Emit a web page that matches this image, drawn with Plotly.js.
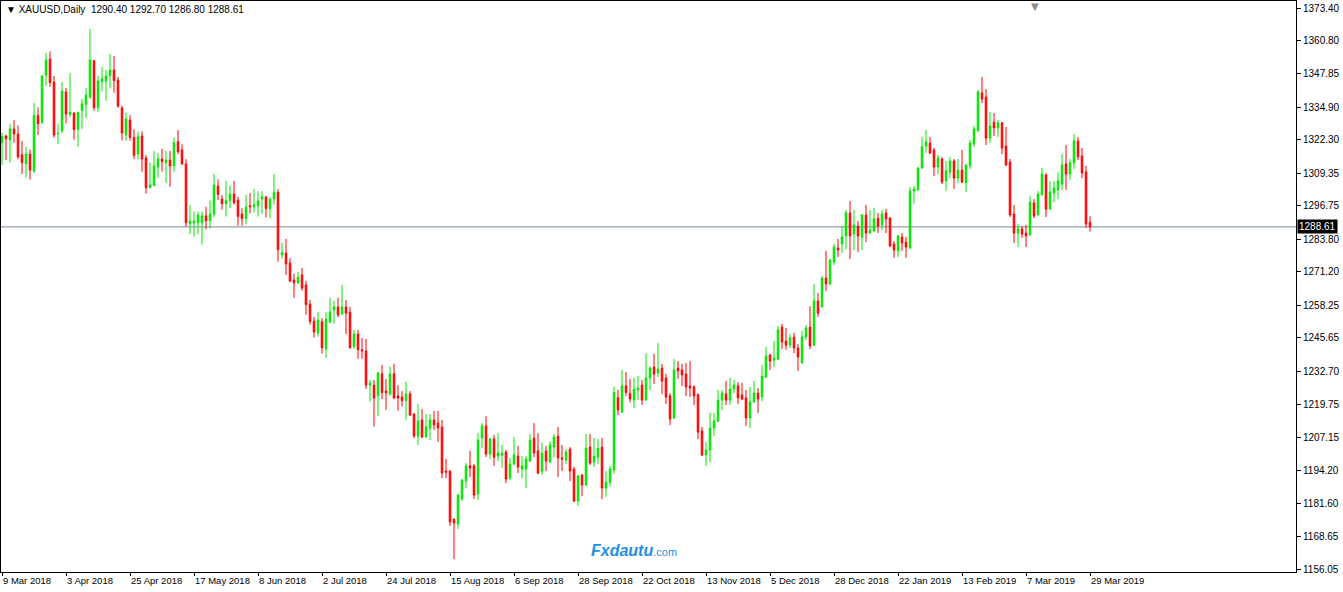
<!DOCTYPE html>
<html>
<head>
<meta charset="utf-8">
<script src="https://cdn.plot.ly/plotly-3.0.1.min.js"></script>
<style>
  html, body { margin: 0; padding: 0; background: #ffffff; }
  #chart { width: 1343px; height: 592px; }
</style>
</head>
<body>
<div id="chart"></div>
<script>
// XAUUSD Daily, 9 Mar 2018 .. 29 Mar 2019 (one entry per daily bar)
const symbol = 'XAUUSD,Daily';

const open = [
  1321.2,1323.8,1322.3,1326.5,1324.6,1316.5,1313.0,1316.8,1310.2,1331.8,
  1329.0,1347.4,1353.6,1344.7,1324.6,1325.9,1340.9,1332.1,1332.7,1326.4,
  1333.6,1336.0,1338.8,1353.0,1334.8,1344.9,1345.1,1347.2,1349.4,1345.5,
  1334.7,1324.2,1330.0,1323.2,1316.8,1323.8,1315.3,1303.8,1304.6,1311.8,
  1314.9,1313.4,1314.5,1312.2,1321.6,1318.4,1313.0,1289.8,1290.2,1290.2,
  1290.2,1292.9,1291.0,1293.6,1304.4,1299.4,1297.6,1298.8,1301.3,1299.0,
  1293.6,1291.8,1296.8,1296.4,1296.8,1299.4,1300.2,1295.7,1299.5,1302.0,
  1277.7,1278.5,1274.6,1268.0,1266.9,1270.0,1266.1,1258.7,1252.1,1247.5,
  1251.8,1241.4,1251.8,1256.4,1257.6,1254.9,1257.6,1255.6,1242.2,1247.1,
  1241.0,1240.5,1227.3,1227.3,1223.2,1231.7,1225.0,1223.9,1231.7,1223.1,
  1222.7,1221.3,1223.9,1216.1,1207.6,1213.8,1207.2,1210.7,1213.8,1212.6,
  1211.1,1194.0,1194.0,1175.4,1173.5,1183.2,1190.2,1196.1,1196.0,1185.1,
  1206.8,1211.5,1200.6,1206.4,1199.8,1200.2,1201.4,1191.3,1196.7,1199.8,
  1194.8,1194.8,1197.9,1206.8,1201.8,1194.0,1201.8,1197.5,1203.3,1207.6,
  1199.1,1198.3,1202.5,1194.8,1182.4,1192.5,1188.6,1203.3,1197.5,1199.4,
  1203.3,1187.4,1189.7,1194.4,1222.5,1216.9,1227.0,1224.1,1221.5,1225.4,
  1227.3,1221.5,1230.1,1234.3,1232.0,1233.9,1230.1,1223.1,1214.5,1233.9,
  1233.2,1231.6,1227.0,1226.6,1223.5,1209.5,1200.2,1202.2,1210.7,1213.4,
  1221.5,1223.9,1221.5,1225.8,1227.0,1223.5,1222.3,1214.6,1220.8,1224.2,
  1222.7,1230.4,1239.0,1237.0,1237.4,1249.8,1244.4,1242.8,1245.9,1241.7,
  1235.9,1245.9,1249.8,1242.8,1259.9,1257.6,1268.8,1266.5,1275.0,1280.4,
  1282.0,1285.1,1294.0,1285.8,1288.9,1284.7,1293.2,1286.2,1287.0,1292.0,
  1289.3,1294.0,1292.0,1282.0,1279.3,1284.7,1282.7,1280.4,1302.5,1302.9,
  1311.4,1319.9,1321.1,1318.4,1311.8,1314.9,1306.4,1309.9,1314.1,1307.5,
  1310.6,1305.7,1312.3,1320.7,1325.8,1340.5,1338.9,1323.0,1329.2,1326.9,
  1328.9,1319.9,1313.7,1293.6,1286.2,1287.8,1286.2,1285.5,1297.9,1293.2,
  1301.0,1308.7,1295.5,1301.7,1302.9,1305.2,1313.0,1309.1,1313.4,1321.9,
  1316.1,1309.9,1290.40
];
const high = [
  1325.1,1324.3,1328.5,1330.0,1327.9,1321.9,1319.5,1318.6,1336.6,1334.9,
  1347.3,1356.0,1356.6,1347.1,1328.5,1344.7,1342.4,1348.2,1333.0,1333.2,
  1338.1,1342.4,1365.3,1353.3,1347.1,1350.5,1349.4,1355.6,1354.8,1346.7,
  1335.6,1332.9,1331.9,1326.4,1325.6,1325.6,1316.4,1313.5,1318.0,1317.1,
  1318.8,1318.0,1318.0,1323.2,1326.1,1320.6,1314.8,1297.1,1294.5,1294.5,
  1294.5,1296.4,1298.8,1309.1,1307.0,1301.0,1306.4,1304.6,1306.4,1300.3,
  1295.8,1301.0,1301.7,1303.3,1302.4,1302.4,1300.6,1300.1,1309.1,1303.2,
  1282.4,1283.9,1276.5,1270.4,1271.1,1272.7,1267.6,1260.3,1253.7,1255.6,
  1253.3,1255.6,1261.1,1259.9,1261.1,1266.1,1260.3,1257.6,1248.7,1248.7,
  1245.6,1245.2,1229.3,1229.3,1232.4,1235.1,1229.7,1234.4,1235.6,1227.3,
  1225.0,1228.6,1225.0,1216.4,1220.0,1218.0,1216.1,1216.1,1217.3,1217.3,
  1213.8,1198.7,1194.3,1175.6,1185.1,1190.9,1197.1,1201.8,1196.7,1208.7,
  1212.6,1215.3,1206.8,1208.0,1208.7,1204.1,1202.2,1199.1,1207.2,1203.7,
  1199.8,1199.8,1208.4,1212.6,1208.7,1204.9,1203.7,1205.6,1208.4,1211.1,
  1204.1,1202.5,1203.3,1195.6,1192.5,1192.8,1208.4,1208.4,1206.8,1206.4,
  1206.8,1194.0,1196.0,1226.7,1225.5,1233.2,1232.4,1229.7,1230.1,1230.8,
  1229.3,1239.7,1234.7,1239.4,1243.6,1235.5,1231.6,1224.2,1237.4,1236.6,
  1235.5,1235.9,1236.6,1227.3,1224.2,1211.1,1205.3,1216.5,1216.5,1225.4,
  1225.4,1228.9,1230.1,1229.3,1228.5,1228.1,1225.4,1226.6,1228.9,1226.2,
  1235.1,1242.1,1239.4,1244.4,1250.2,1251.0,1249.4,1247.1,1247.5,1243.2,
  1248.3,1250.6,1257.9,1266.5,1263.0,1269.6,1279.3,1276.2,1282.0,1283.9,
  1288.9,1295.1,1298.6,1295.1,1290.9,1293.6,1297.1,1295.1,1295.9,1294.0,
  1295.1,1295.5,1292.4,1283.1,1285.5,1286.2,1284.7,1304.1,1304.4,1311.8,
  1323.4,1326.1,1323.4,1319.2,1316.5,1315.7,1314.1,1315.7,1314.9,1314.9,
  1318.4,1312.8,1322.3,1327.7,1341.6,1346.7,1342.0,1333.1,1332.7,1330.0,
  1329.2,1327.3,1314.9,1297.1,1289.7,1288.9,1289.3,1300.6,1299.4,1302.5,
  1311.4,1309.5,1306.4,1306.4,1309.9,1316.8,1320.3,1314.9,1324.6,1323.4,
  1319.2,1312.2,1292.70
];
const low = [
  1312.6,1314.5,1313.5,1321.2,1314.8,1309.1,1307.7,1306.9,1309.5,1324.2,
  1328.5,1343.3,1342.9,1323.2,1320.8,1324.8,1328.7,1331.2,1322.4,1319.7,
  1326.6,1330.9,1338.4,1333.6,1333.2,1341.1,1337.5,1342.2,1340.6,1334.8,
  1322.0,1322.0,1322.0,1314.9,1314.9,1310.0,1301.5,1303.6,1304.4,1307.7,
  1310.0,1305.7,1304.2,1309.9,1316.8,1312.6,1288.7,1285.8,1284.8,1285.8,
  1281.8,1287.7,1288.0,1292.4,1299.0,1295.3,1292.6,1295.8,1297.2,1289.1,
  1289.1,1289.7,1293.9,1294.2,1292.6,1293.7,1292.3,1291.9,1297.2,1275.1,
  1276.2,1270.0,1267.2,1261.1,1266.5,1263.9,1254.6,1250.7,1245.7,1246.1,
  1239.5,1237.9,1251.4,1251.0,1253.7,1254.5,1247.1,1241.4,1241.4,1237.5,
  1237.5,1225.8,1220.9,1211.2,1215.3,1221.9,1217.7,1223.2,1221.9,1217.4,
  1219.0,1213.9,1215.3,1206.8,1204.1,1206.8,1206.9,1206.0,1209.9,1205.3,
  1191.3,1191.3,1172.7,1159.9,1171.6,1182.4,1187.4,1191.7,1183.2,1182.8,
  1202.9,1199.4,1198.7,1196.0,1197.9,1195.2,1189.4,1190.5,1196.3,1193.2,
  1191.3,1187.4,1197.6,1199.4,1192.9,1192.5,1194.0,1197.2,1199.4,1191.7,
  1194.0,1196.7,1190.1,1182.0,1180.5,1184.3,1188.2,1196.3,1195.6,1196.7,
  1183.2,1184.0,1188.0,1193.0,1215.7,1216.5,1223.1,1220.6,1218.4,1221.5,
  1219.6,1221.3,1225.4,1227.7,1230.4,1223.9,1220.0,1211.8,1214.3,1229.7,
  1227.0,1223.1,1222.7,1219.6,1206.4,1199.8,1196.0,1197.5,1207.6,1213.0,
  1217.6,1219.6,1219.6,1224.2,1220.0,1221.5,1211.5,1210.7,1220.4,1216.5,
  1221.1,1230.1,1233.2,1234.3,1237.0,1241.3,1240.9,1241.7,1239.7,1232.8,
  1235.5,1244.8,1241.3,1242.4,1253.7,1257.4,1263.8,1266.1,1273.8,1276.9,
  1278.5,1280.0,1276.2,1279.6,1278.9,1279.6,1282.7,1286.0,1286.8,1286.2,
  1287.4,1286.2,1280.8,1276.6,1276.9,1279.3,1276.6,1280.2,1297.5,1302.7,
  1311.2,1317.2,1316.8,1308.3,1309.1,1305.2,1302.5,1307.5,1303.3,1305.6,
  1305.6,1302.2,1311.0,1319.6,1325.6,1336.6,1320.3,1321.1,1323.8,1323.4,
  1316.8,1312.2,1292.4,1282.4,1280.8,1284.3,1280.8,1285.3,1292.0,1293.0,
  1300.8,1292.4,1295.3,1298.2,1299.4,1302.9,1302.9,1306.8,1311.0,1314.5,
  1307.5,1288.2,1286.80
];
const close = [
  1323.6,1322.8,1326.5,1324.6,1315.8,1313.5,1316.8,1310.6,1331.8,1328.6,
  1347.1,1353.3,1344.5,1324.2,1324.8,1341.2,1332.3,1333.0,1326.3,1333.0,
  1336.2,1339.6,1353.3,1334.8,1345.1,1345.9,1347.1,1349.4,1345.3,1335.4,
  1325.0,1330.4,1323.2,1316.4,1323.5,1314.9,1303.8,1304.8,1312.2,1314.9,
  1313.9,1314.5,1312.2,1321.2,1317.7,1313.0,1290.2,1290.9,1290.9,1293.2,
  1292.9,1291.0,1293.6,1304.8,1301.2,1297.6,1298.8,1301.3,1298.0,1292.6,
  1291.8,1296.2,1296.4,1297.2,1298.6,1300.2,1295.7,1299.3,1302.0,1279.8,
  1278.6,1274.2,1267.6,1266.9,1269.2,1264.9,1258.5,1251.9,1247.9,1252.5,
  1241.8,1252.9,1255.6,1257.6,1254.5,1257.6,1255.2,1241.8,1247.1,1241.0,
  1240.6,1227.3,1228.0,1222.3,1232.0,1224.4,1224.4,1231.6,1222.3,1222.3,
  1221.3,1223.9,1215.7,1207.6,1213.4,1207.2,1211.1,1213.8,1211.9,1210.7,
  1193.3,1193.6,1174.3,1173.9,1184.7,1190.5,1196.0,1195.2,1184.7,1206.0,
  1211.5,1200.6,1206.4,1199.4,1201.0,1201.0,1190.9,1196.7,1200.2,1195.6,
  1196.0,1198.7,1206.0,1201.0,1193.2,1201.0,1197.9,1204.1,1207.2,1199.1,
  1198.7,1201.4,1194.0,1182.4,1192.1,1188.6,1202.9,1197.1,1199.8,1202.9,
  1187.4,1189.7,1194.8,1224.4,1217.7,1227.0,1224.4,1221.9,1225.7,1226.2,
  1221.5,1230.1,1233.9,1231.6,1233.5,1228.9,1222.7,1214.2,1233.2,1232.8,
  1231.2,1226.6,1226.2,1223.1,1209.1,1200.2,1202.2,1210.7,1213.4,1221.5,
  1224.2,1221.5,1225.8,1227.3,1222.3,1221.9,1214.6,1220.8,1224.2,1221.9,
  1230.8,1238.6,1236.6,1237.8,1248.7,1244.0,1242.8,1245.6,1241.7,1238.2,
  1245.9,1249.4,1242.5,1259.9,1255.2,1268.8,1266.5,1275.8,1280.8,1279.6,
  1284.7,1294.0,1285.1,1289.3,1285.1,1293.2,1286.2,1287.4,1291.7,1288.9,
  1293.6,1291.7,1281.2,1279.6,1285.1,1282.4,1280.8,1302.5,1303.3,1311.4,
  1319.6,1321.5,1317.2,1311.8,1315.3,1306.0,1310.3,1314.1,1307.5,1310.6,
  1306.0,1312.6,1321.1,1326.5,1340.9,1338.1,1323.0,1327.7,1326.9,1328.9,
  1319.2,1312.6,1293.2,1286.2,1287.8,1285.8,1285.1,1298.2,1292.8,1301.3,
  1309.1,1295.5,1302.1,1303.7,1306.4,1312.6,1309.1,1313.4,1321.9,1315.7,
  1309.5,1289.7,1288.61
];

// Time-axis labels and the bar (0-based) each one marks
const dateLabels = ['9 Mar 2018','3 Apr 2018','25 Apr 2018','17 May 2018','8 Jun 2018','2 Jul 2018',
  '24 Jul 2018','15 Aug 2018','6 Sep 2018','28 Sep 2018','22 Oct 2018','13 Nov 2018',
  '5 Dec 2018','28 Dec 2018','22 Jan 2019','13 Feb 2019','7 Mar 2019','29 Mar 2019'];
const dateLabelBars = [0,16,32,48,64,80,96,112,128,144,160,176,192,208,224,240,256,272];

// Price-scale labels
const priceTicks = [1373.40,1360.80,1347.85,1334.90,1322.30,1309.35,1296.75,1283.80,1271.20,
  1258.25,1245.65,1232.70,1219.75,1207.15,1194.20,1181.60,1168.65,1156.05];

const GREEN = '#00e600';
const RED = '#ff0000';
const FONT = '"Liberation Sans", Arial, sans-serif';

const n = close.length;
const idx = close.map((_, i) => i);
const lastO = open[n - 1], lastH = high[n - 1], lastL = low[n - 1], lastC = close[n - 1];

const trace = {
  type: 'candlestick',
  x: idx, open: open, high: high, low: low, close: close,
  increasing: { line: { color: GREEN, width: 1 }, fillcolor: GREEN },
  decreasing: { line: { color: RED, width: 1 }, fillcolor: RED },
  whiskerwidth: 0,
  hoverinfo: 'skip'
};

const annotations = [];
dateLabels.forEach((t, k) => {
  annotations.push({
    x: dateLabelBars[k], xref: 'x', y: 0, yref: 'paper',
    xanchor: 'left', yanchor: 'top', yshift: -1, xshift: -1,
    text: t, showarrow: false,
    font: { family: FONT, size: 9.5, color: '#000000' }
  });
});
// Header
annotations.push({
  x: 0, xref: 'paper', y: 1, yref: 'paper', xanchor: 'left', yanchor: 'top',
  xshift: 3, yshift: -1, showarrow: false,
  text: '\u25BC ' + symbol + '  ' + lastO.toFixed(2) + ' ' + lastH.toFixed(2) + ' ' + lastL.toFixed(2) + ' ' + lastC.toFixed(2),
  font: { family: FONT, size: 10, color: '#000000' }
});
// Current price tag on the price scale
annotations.push({
  x: 1, xref: 'paper', y: lastC, yref: 'y', xanchor: 'left', yanchor: 'middle',
  xshift: 1, showarrow: false, text: lastC.toFixed(2),
  bgcolor: '#000000', borderpad: 1,
  font: { family: FONT, size: 10, color: '#ffffff' }
});
// Watermark
annotations.push({
  x: 0.4537, xref: 'paper', y: 0.037, yref: 'paper', xanchor: 'left', yanchor: 'middle',
  showarrow: false,
  text: '<b><i>Fxdautu</i></b><span style="font-size:11px">.com</span>',
  font: { family: FONT, size: 16, color: '#1f8fe6' }
});
// Chart-shift marker (grey triangle at the top edge)
annotations.push({
  x: 0.7986, xref: 'paper', y: 1, yref: 'paper', xanchor: 'center', yanchor: 'top',
  yshift: 1, showarrow: false, text: '\u25BC', borderpad: 0,
  font: { family: 'DejaVu Sans', size: 10, color: '#8c8c8c' }
});

const layout = {
  width: 1343, height: 592,
  margin: { l: 1, r: 47, t: 1, b: 20, pad: 0 },
  paper_bgcolor: '#ffffff', plot_bgcolor: '#ffffff',
  showlegend: false, hovermode: false, dragmode: false,
  boxgap: 0.45,
  xaxis: {
    type: 'linear', range: [-0.25, 323.5],
    rangeslider: { visible: false },
    showgrid: false, zeroline: false,
    showline: true, mirror: true, linecolor: '#000000', linewidth: 1,
    tickmode: 'array', tickvals: dateLabelBars, showticklabels: false,
    ticks: 'outside', ticklen: 3, tickcolor: '#000000', tickwidth: 1
  },
  yaxis: {
    side: 'right', range: [1154.90, 1376.11],
    showgrid: false, zeroline: false,
    showline: true, mirror: true, linecolor: '#000000', linewidth: 1,
    tickmode: 'array', tickvals: priceTicks, ticktext: priceTicks.map(v => v.toFixed(2)),
    ticks: 'outside', ticklen: 4, tickcolor: '#000000', tickwidth: 1,
    tickfont: { family: FONT, size: 10, color: '#000000' }
  },
  shapes: [{
    type: 'line', xref: 'paper', x0: 0, x1: 1, yref: 'y', y0: lastC, y1: lastC,
    line: { color: '#778899', width: 1 }, layer: 'below'
  }],
  annotations: annotations
};

Plotly.newPlot('chart', [trace], layout, { staticPlot: true, displayModeBar: false });
</script>
</body>
</html>
